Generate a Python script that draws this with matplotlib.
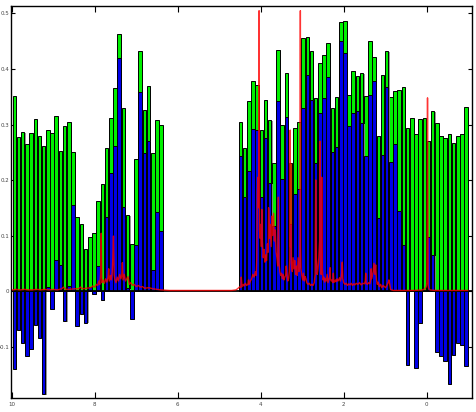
import numpy as np
import matplotlib
matplotlib.use("Agg")
import matplotlib.pyplot as plt
import matplotlib.patheffects as pe

# ---- binned integrals (0.1 ppm buckets) ----
# low-field block, 9.94 -> 6.40 ppm
bins_low = np.linspace(9.94, 6.40, 36)
total_low = [0.351, 0.278, 0.287, 0.265, 0.2855, 0.310, 0.280, 0.262, 0.290, 0.285,
             0.315, 0.253, 0.2975, 0.305, 0.250, 0.133, 0.120, 0.075, 0.097, 0.105,
             0.1625, 0.192, 0.258, 0.312, 0.365, 0.463, 0.329, 0.137, 0.084, 0.237,
             0.433, 0.327, 0.370, 0.248, 0.308, 0.299]
diff_low = [-0.140, -0.071, -0.094, -0.1165, -0.104, -0.061, -0.085, -0.186, 0.0066, -0.033,
            0.056, 0.047, -0.054, 0.0096, 0.155, -0.063, -0.041, -0.057, 0.008, -0.006,
            0.045, -0.016, 0.133, 0.212, 0.262, 0.420, 0.152, 0.005, -0.051, 0.082,
            0.358, 0.248, 0.271, 0.038, 0.143, 0.1075]

# high-field block, 4.49 -> -0.95 ppm
bins_high = np.linspace(4.49, -0.95, 55)
total_high = [0.305, 0.258, 0.343, 0.378, 0.372, 0.290, 0.345, 0.308, 0.230, 0.435,
              0.299, 0.393, 0.230, 0.294, 0.304, 0.455, 0.4575, 0.433, 0.348, 0.410,
              0.426, 0.447, 0.330, 0.349, 0.485, 0.487, 0.354, 0.397, 0.387, 0.393,
              0.352, 0.450, 0.422, 0.280, 0.389, 0.433, 0.349, 0.360, 0.3625, 0.367,
              0.294, 0.312, 0.2825, 0.310, 0.311, 0.271, 0.324, 0.302, 0.280, 0.2765,
              0.2825, 0.267, 0.280, 0.2825, 0.332]
diff_high = [0.2425, 0.170, 0.217, 0.2915, 0.290, 0.169, 0.275, 0.195, 0.1165, 0.342,
             0.202, 0.314, 0.120, 0.175, 0.184, 0.330, 0.389, 0.345, 0.230, 0.320,
             0.348, 0.385, 0.250, 0.260, 0.450, 0.428, 0.298, 0.320, 0.324, 0.302,
             0.2425, 0.354, 0.378, 0.132, 0.245, 0.367, 0.233, 0.265, 0.145, 0.0825,
             -0.134, 0.0, -0.138, -0.058, 0.0, 0.097, 0.0645, -0.109, -0.1165, -0.1255,
             -0.168, -0.116, -0.094, -0.097, -0.1355]

# ---- spectrum trace ----
spec_ppm = [9.98, 9.90, 9.80, 9.70, 9.60, 9.50, 9.40, 9.30, 9.20, 9.10,
            9.00, 8.90, 8.80, 8.75, 8.70, 8.60, 8.50, 8.40, 8.34, 8.30,
            8.20, 8.10, 8.05, 8.00, 7.96, 7.93, 7.90, 7.88, 7.86, 7.845,
            7.83, 7.80, 7.77, 7.74, 7.71, 7.68, 7.665, 7.65, 7.62, 7.60,
            7.58, 7.565, 7.55, 7.535, 7.52, 7.49, 7.46, 7.43, 7.40, 7.37,
            7.35, 7.335, 7.32, 7.29, 7.26, 7.23, 7.20, 7.17, 7.13, 7.09,
            7.05, 7.00, 6.95, 6.90, 6.85, 6.80, 6.70, 6.60, 6.50, 6.40,
            6.20, 6.00, 5.50, 5.00, 4.70, 4.60, 4.56, 4.53, 4.50, 4.48,
            4.47, 4.45, 4.42, 4.40, 4.37, 4.34, 4.31, 4.295, 4.28, 4.25,
            4.22, 4.19, 4.16, 4.13, 4.11, 4.095, 4.08, 4.065, 4.05, 4.04,
            4.03, 4.015, 4.00, 3.985, 3.975, 3.96, 3.94, 3.92, 3.90, 3.88,
            3.86, 3.84, 3.82, 3.81, 3.79, 3.77, 3.75, 3.73, 3.71, 3.69,
            3.67, 3.65, 3.63, 3.61, 3.59, 3.575, 3.56, 3.54, 3.52, 3.50,
            3.48, 3.46, 3.44, 3.42, 3.40, 3.385, 3.37, 3.35, 3.33, 3.31,
            3.30, 3.29, 3.28, 3.27, 3.26, 3.24, 3.22, 3.20, 3.18, 3.16,
            3.14, 3.12, 3.10, 3.08, 3.06, 3.05, 3.045, 3.04, 3.03, 3.01,
            2.99, 2.97, 2.95, 2.93, 2.91, 2.89, 2.86, 2.83, 2.80, 2.77,
            2.74, 2.71, 2.69, 2.675, 2.66, 2.64, 2.62, 2.60, 2.58, 2.57,
            2.56, 2.545, 2.53, 2.515, 2.50, 2.48, 2.46, 2.44, 2.42, 2.40,
            2.38, 2.36, 2.34, 2.33, 2.32, 2.30, 2.28, 2.26, 2.25, 2.24,
            2.22, 2.20, 2.18, 2.16, 2.14, 2.12, 2.10, 2.08, 2.06, 2.045,
            2.035, 2.02, 2.00, 1.97, 1.94, 1.91, 1.88, 1.85, 1.82, 1.79,
            1.76, 1.73, 1.70, 1.66, 1.62, 1.58, 1.54, 1.50, 1.48, 1.47,
            1.46, 1.43, 1.40, 1.37, 1.35, 1.34, 1.33, 1.31, 1.29, 1.27,
            1.25, 1.23, 1.21, 1.19, 1.17, 1.14, 1.11, 1.08, 1.05, 1.02,
            0.99, 0.96, 0.93, 0.91, 0.89, 0.87, 0.85, 0.80, 0.60, 0.30,
            0.10, 0.04, 0.01, -0.005, -0.02, -0.035, -0.05, -0.08, -0.20, -0.50,
            -0.80, -0.99]
spec_int = [0.002, 0.003, 0.002, 0.003, 0.002, 0.002, 0.003, 0.002, 0.003, 0.002,
            0.003, 0.002, 0.004, 0.007, 0.003, 0.003, 0.004, 0.004, 0.007, 0.004,
            0.005, 0.006, 0.009, 0.007, 0.012, 0.010, 0.018, 0.012, 0.030, 0.104,
            0.015, 0.020, 0.014, 0.022, 0.016, 0.025, 0.040, 0.018, 0.028, 0.020,
            0.035, 0.060, 0.099, 0.030, 0.022, 0.015, 0.025, 0.018, 0.030, 0.022,
            0.028, 0.051, 0.020, 0.030, 0.018, 0.022, 0.026, 0.012, 0.015, 0.010,
            0.012, 0.008, 0.010, 0.007, 0.008, 0.005, 0.006, 0.004, 0.003, 0.002,
            0.001, 0.001, 0.001, 0.001, 0.001, 0.002, 0.004, 0.006, 0.008, 0.006,
            0.025, 0.008, 0.012, 0.009, 0.014, 0.010, 0.012, 0.020, 0.012, 0.018,
            0.022, 0.030, 0.025, 0.035, 0.028, 0.060, 0.180, 0.205, 0.150, 0.505,
            0.110, 0.095, 0.120, 0.080, 0.147, 0.090, 0.060, 0.075, 0.052, 0.065,
            0.055, 0.085, 0.070, 0.150, 0.095, 0.120, 0.080, 0.135, 0.100, 0.140,
            0.090, 0.110, 0.070, 0.060, 0.045, 0.169, 0.050, 0.035, 0.028, 0.032,
            0.022, 0.030, 0.020, 0.025, 0.028, 0.045, 0.030, 0.018, 0.022, 0.035,
            0.060, 0.290, 0.080, 0.229, 0.050, 0.035, 0.060, 0.040, 0.055, 0.030,
            0.045, 0.028, 0.060, 0.035, 0.045, 0.100, 0.505, 0.080, 0.040, 0.028,
            0.020, 0.032, 0.018, 0.026, 0.022, 0.015, 0.012, 0.014, 0.010, 0.012,
            0.010, 0.015, 0.030, 0.200, 0.060, 0.030, 0.040, 0.060, 0.090, 0.270,
            0.050, 0.030, 0.205, 0.040, 0.020, 0.025, 0.016, 0.022, 0.018, 0.030,
            0.015, 0.020, 0.025, 0.042, 0.022, 0.018, 0.020, 0.015, 0.032, 0.020,
            0.016, 0.020, 0.017, 0.022, 0.018, 0.020, 0.024, 0.018, 0.025, 0.035,
            0.052, 0.022, 0.015, 0.012, 0.014, 0.010, 0.013, 0.011, 0.014, 0.010,
            0.013, 0.011, 0.014, 0.012, 0.015, 0.011, 0.014, 0.013, 0.018, 0.032,
            0.014, 0.012, 0.015, 0.013, 0.020, 0.040, 0.022, 0.028, 0.035, 0.050,
            0.030, 0.047, 0.020, 0.012, 0.016, 0.008, 0.012, 0.006, 0.010, 0.008,
            0.006, 0.010, 0.015, 0.020, 0.012, 0.003, 0.002, 0.001, 0.001, 0.001,
            0.002, 0.004, 0.008, 0.015, 0.348, 0.010, 0.004, 0.002, 0.001, 0.001,
            0.001, 0.001]

x_ticks = [10, 8, 6, 4, 2, 0]
x_labels = ["10", "8", "6", "4", "2", "0"]
y_ticks = [-0.1, 0, 0.1, 0.2, 0.3, 0.4, 0.5]
y_labels = ["-0.1", "0", "0.1", "0.2", "0.3", "0.4", "0.5"]

GREEN = "#00f000"
BLUE = "#0000e8"
BAR_W = 0.086

fig = plt.figure(figsize=(4.77, 4.12), dpi=100)
ax = fig.add_axes([11 / 477, 13.7 / 412, 460.7 / 477, 392.3 / 412])

shadow = [pe.SimplePatchShadow(offset=(0.8, -0.6), shadow_rgbFace="0.55", alpha=0.9), pe.Normal()]

bins = np.concatenate([bins_low, bins_high])
total = np.array(total_low + total_high)
diff = np.array(diff_low + diff_high)

ax.bar(bins, total, width=BAR_W, color=GREEN, edgecolor="black",
       linewidth=0.7, zorder=2, path_effects=shadow)
ax.bar(bins, diff, width=BAR_W, color=BLUE, edgecolor="black",
       linewidth=0.7, zorder=3, path_effects=shadow)

ax.axhline(0, color="black", linewidth=1.3, zorder=3.5)
ax.plot(spec_ppm, spec_int, color="red", linewidth=1.0, alpha=0.8, zorder=4)

ax.set_xlim(10.02, -1.085)
ax.set_ylim(-0.1933, 0.5135)

ax.set_xticks(x_ticks)
ax.set_xticklabels(x_labels)
ax.set_yticks(y_ticks)
ax.set_yticklabels(y_labels)

ax.tick_params(axis="both", direction="in", top=True, right=True,
               labelsize=4.0, labelcolor="#444444", width=0.8, color="black")
ax.tick_params(axis="x", length=4.3, pad=2.5)
ax.tick_params(axis="y", length=2.9, pad=1.0)

for s in ax.spines.values():
    s.set_linewidth(1.0)
    s.set_color("black")

fig.savefig("out.png", dpi=100)
